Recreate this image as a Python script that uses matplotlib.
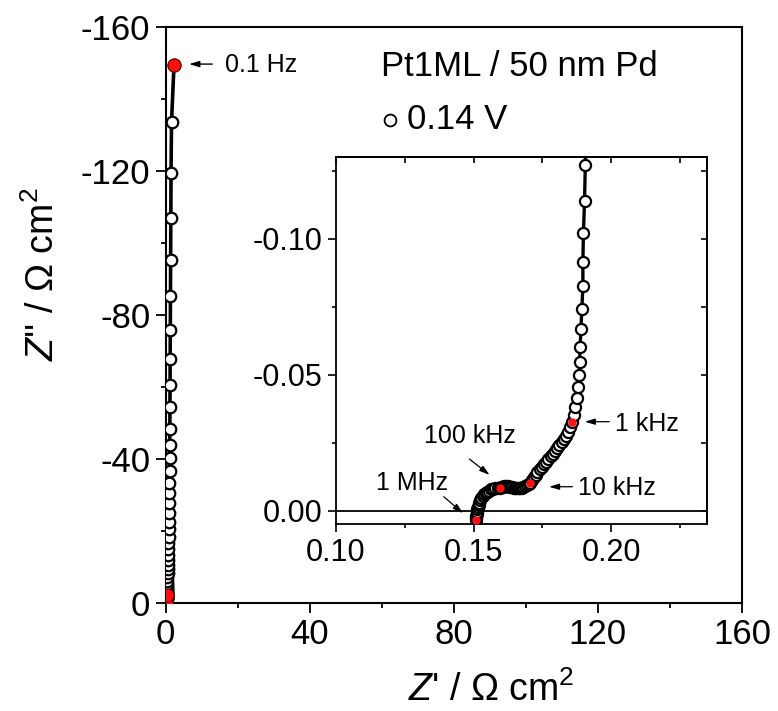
import matplotlib
matplotlib.use('Agg')
import matplotlib.pyplot as plt
from matplotlib.ticker import MultipleLocator, FormatStrFormatter, NullFormatter

plt.rcParams['font.family'] = ['Liberation Sans', 'DejaVu Sans']
plt.rcParams['mathtext.fontset'] = 'custom'
plt.rcParams['mathtext.rm'] = 'Liberation Sans'
plt.rcParams['mathtext.it'] = 'Liberation Sans:italic'
plt.rcParams['axes.unicode_minus'] = False

# ---------------- data (Z' , Z'' in Ohm cm^2), from 1 MHz down to 0.1 Hz ----------------
z_real = [
    0.1509, 0.1509, 0.1510, 0.1511, 0.1512, 0.1514, 0.1516, 0.1518, 0.1521, 0.1524,
    0.1528, 0.1533, 0.1538, 0.1544, 0.1550, 0.1556, 0.1563, 0.1571, 0.1579, 0.1587,
    0.1596,
    0.1600, 0.1605, 0.1610, 0.1615, 0.1620, 0.1625, 0.1630, 0.1635, 0.1640, 0.1645,
    0.1650, 0.1655, 0.1660, 0.1665, 0.1670, 0.1675, 0.1680, 0.1686, 0.1693, 0.1700,
    0.1706,
    0.1712, 0.1718, 0.1725, 0.1732, 0.1740, 0.1748, 0.1756, 0.1764, 0.1772, 0.1780,
    0.1788, 0.1796, 0.1804, 0.1812, 0.1820, 0.1828, 0.1836, 0.1843, 0.1850,
    0.1857,
    0.1863, 0.1869, 0.1875, 0.1879, 0.1884, 0.1885, 0.1887, 0.1890, 0.1893, 0.1897,
    0.1897, 0.1899, 0.1903, 0.1906,
    0.1908, 0.1910, 0.1912, 0.1915, 0.1920, 0.1925, 0.1930, 0.1940, 0.1950, 0.1960,
    0.1970, 0.1990, 0.2010, 0.2030, 0.2060, 0.2090, 0.2120, 0.2160, 0.2200, 0.2250,
    0.2300, 0.2360, 0.2430, 0.2500, 0.2600, 0.2700, 0.2800, 0.2900, 0.3000, 0.3200,
    0.3400, 0.3600, 0.3800, 0.4100,
    0.44, 0.48, 0.52, 0.56, 0.60, 0.64, 0.68, 0.72, 0.76, 0.80,
    0.84, 0.88, 0.92, 0.96, 1.00, 1.03, 1.06, 1.09, 1.12, 1.15,
    1.18, 1.21, 1.24, 1.28, 1.32, 1.36, 1.41, 1.48, 1.62, 2.30,
]
z_imag = [
    0.0034, 0.0028, 0.0020, 0.0012, 0.0004, -0.0005, -0.0014, -0.0022, -0.0030, -0.0038,
    -0.0046, -0.0053, -0.0060, -0.0065, -0.0070, -0.0074, -0.0078, -0.0081, -0.0083, -0.0084,
    -0.0085,
    -0.0087, -0.0088, -0.0089, -0.0089, -0.0089, -0.0089, -0.0088, -0.0087, -0.0086, -0.0085,
    -0.0084, -0.0083, -0.0083, -0.0083, -0.0084, -0.0085, -0.0087, -0.0090, -0.0093, -0.0097,
    -0.0101,
    -0.0112, -0.0122, -0.0132, -0.0143, -0.0152, -0.0161, -0.0171, -0.0180, -0.0190, -0.0200,
    -0.0210, -0.0220, -0.0230, -0.0240, -0.0251, -0.0262, -0.0276, -0.0290, -0.0307,
    -0.0327,
    -0.0352, -0.0380, -0.0413, -0.0454, -0.0499, -0.0548, -0.0603, -0.0668, -0.0740, -0.0824,
    -0.0914, -0.1020, -0.1139, -0.1271,
    -0.142, -0.159, -0.177, -0.198, -0.221, -0.247, -0.276, -0.308, -0.344, -0.384,
    -0.428, -0.478, -0.533, -0.595, -0.664, -0.741, -0.827, -0.923, -1.03, -1.15,
    -1.28, -1.43, -1.60, -1.78, -1.99, -2.22, -2.48, -2.77, -3.09, -3.45,
    -3.85, -4.30, -4.80, -5.35,
    -6.2, -7.1, -8.25, -9.4, -10.6, -11.9, -13.3, -14.9, -16.6, -18.4,
    -20.5, -22.6, -25.1, -27.7, -30.5, -33.4, -36.8, -40.2, -43.9, -48.3,
    -54.4, -60.6, -67.7, -75.8, -85.3, -95.3, -106.9, -119.4, -133.7, -149.4,
]

# highlighted decade frequencies (1 MHz, 100 kHz, 10 kHz, 1 kHz, 100 Hz, 10 Hz, 0.1 Hz)
red_real = [0.1509, 0.1596, 0.1706, 0.1857, 0.1925, 0.2700, 2.30]
red_imag = [0.0034, -0.0085, -0.0101, -0.0327, -0.247, -2.22, -149.4]

main_ticks = [0, 40, 80, 120, 160]
inset_xticks = [0.10, 0.15, 0.20]
inset_yticks = [0.00, -0.05, -0.10]

# ---------------- figure ----------------
W, H = 778, 711
fig = plt.figure(figsize=(W / 100, H / 100), dpi=100)

def px_axes(l, t, r, b):
    return [l / W, 1 - b / H, (r - l) / W, (b - t) / H]

ax = fig.add_axes(px_axes(165.7, 27, 742, 603))
ax.plot(z_real, z_imag, '-o', color='k', lw=2.6, ms=8.3, mfc='white', mec='k', mew=1.6, zorder=3)
ax.plot(red_real, red_imag, 'o', ms=9.5, mfc='#ff1010', mec='#600000', mew=0.8, ls='none', zorder=4)
ax.set_xlim(0, 160)
ax.set_ylim(0, -160)
ax.set_xticks(main_ticks)
ax.set_yticks([-t for t in main_ticks])
ax.set_yticklabels(['0' if t == 0 else '-%d' % t for t in main_ticks])
ax.xaxis.set_minor_locator(MultipleLocator(20))
ax.yaxis.set_minor_locator(MultipleLocator(20))
ax.tick_params(which='major', direction='out', length=7, width=1.3, labelsize=25, pad=4)
ax.tick_params(which='minor', direction='out', length=3.5, width=1.3)
for s in ax.spines.values():
    s.set_linewidth(1.5)

ax.annotate('', xy=(5.7, -149.7), xytext=(13.7, -149.7),
            arrowprops=dict(arrowstyle='-|>,head_length=0.6,head_width=0.18', color='k', lw=1.0))
ax.text(16.5, -149.4, '0.1 Hz', fontsize=18, ha='left', va='center')

ax.text(0.374, 0.932, 'Pt1ML / 50 nm Pd', transform=ax.transAxes, fontsize=25,
        ha='left', va='center')
ax.plot([0.390], [0.839], 'o', transform=ax.transAxes, ms=8.5, mfc='white', mec='k', mew=1.3,
        clip_on=False)
ax.text(0.418, 0.839, '0.14 V', transform=ax.transAxes, fontsize=25, ha='left', va='center')

fig.text(491 / W, 1 - 690 / H, r"$Z$' / Ω cm$^2$", fontsize=27, ha='center', va='center')
fig.text(43 / W, 1 - 274 / H, r"$Z$'' / Ω cm$^2$", fontsize=27, ha='center', va='center',
         rotation=90)

# ---------------- inset ----------------
ins = fig.add_axes(px_axes(336, 157, 707, 524))
ins.axhline(0, color='k', lw=1.3, zorder=1)
ins.plot(z_real, z_imag, '-o', color='k', lw=2.4, ms=8, mfc='white', mec='k', mew=1.6, zorder=3)
ins.plot(red_real, red_imag, 'o', ms=6, mfc='#ff1010', mec='none', ls='none', zorder=4)
ins.set_xlim(0.10, 0.2348)
ins.set_ylim(0.0049, -0.130)
ins.set_xticks(inset_xticks)
ins.set_yticks(inset_yticks)
ins.xaxis.set_minor_locator(MultipleLocator(0.025))
ins.yaxis.set_minor_locator(MultipleLocator(0.025))
ins.xaxis.set_major_formatter(FormatStrFormatter('%.2f'))
ins.yaxis.set_major_formatter(FormatStrFormatter('%.2f'))
ins.tick_params(which='major', direction='out', length=6, width=1.2, labelsize=22, pad=4)
ins.tick_params(which='minor', direction='out', length=3, width=1.2)
for s in ins.spines.values():
    s.set_linewidth(1.3)

# inward ticks (no labels) on top and right of the inset
sec_x = ins.secondary_xaxis('top')
sec_x.set_xticks(inset_xticks)
sec_x.xaxis.set_minor_locator(MultipleLocator(0.025))
sec_x.xaxis.set_major_formatter(NullFormatter())
sec_x.tick_params(which='both', direction='in', length=4, width=1.2, labeltop=False)
sec_x.spines['top'].set_linewidth(1.3)
sec_y = ins.secondary_yaxis('right')
sec_y.set_yticks(inset_yticks)
sec_y.yaxis.set_minor_locator(MultipleLocator(0.025))
sec_y.yaxis.set_major_formatter(NullFormatter())
sec_y.tick_params(which='both', direction='in', length=4, width=1.2, labelright=False)
sec_y.spines['right'].set_linewidth(1.3)

arrow = dict(arrowstyle='-|>,head_length=0.6,head_width=0.18', color='k', lw=0.9)
ins.annotate('', xy=(0.1894, -0.0327), xytext=(0.2003, -0.0327), arrowprops=arrow)
ins.text(0.2015, -0.0318, '1 kHz', fontsize=18, ha='left', va='center')
ins.annotate('', xy=(0.1764, -0.0088), xytext=(0.1869, -0.0088), arrowprops=arrow)
ins.text(0.1880, -0.0083, '10 kHz', fontsize=18, ha='left', va='center')
ins.annotate('', xy=(0.1566, -0.0125), xytext=(0.1477, -0.0196), arrowprops=arrow)
ins.text(0.1487, -0.0275, '100 kHz', fontsize=18, ha='center', va='center')
ins.annotate('', xy=(0.1469, 0.0016), xytext=(0.1384, -0.0058), arrowprops=arrow)
ins.text(0.1278, -0.0102, '1 MHz', fontsize=18, ha='center', va='center')

fig.savefig('out.png', dpi=100)
